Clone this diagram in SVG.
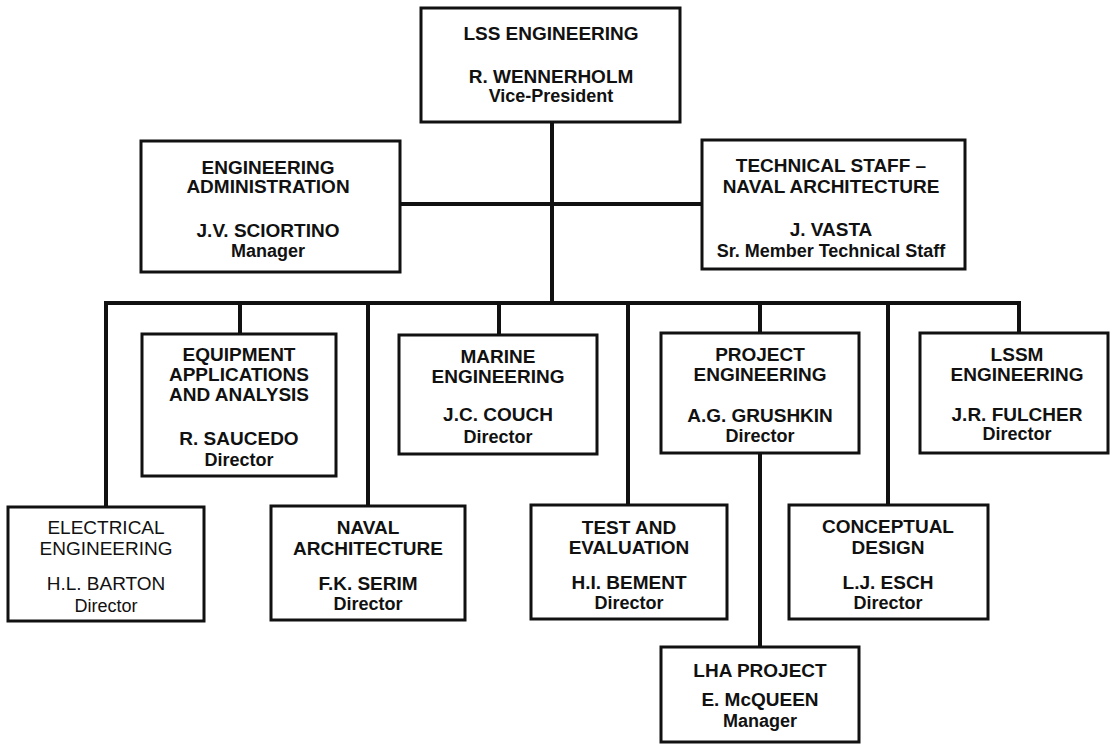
<svg xmlns="http://www.w3.org/2000/svg" width="1110" height="744" viewBox="0 0 1110 744">
<style>
.box{fill:#fff;stroke:#111;stroke-width:3}
.ln{stroke:#111;stroke-width:4;fill:none;stroke-linecap:square}
text{font-family:"Liberation Sans",Arial,sans-serif;font-weight:bold;fill:#111;text-anchor:middle}
.t{font-size:19px}
.s{font-size:18px}
.r{font-weight:normal}
</style>
<rect width="1110" height="744" fill="#fff"/>
<g id="connectors">
<path class="ln" d="M552 122V303M400 204H702M106 303H1019"/>
<path class="ln" d="M106 303V507M240 303V334M368 303V506M499 303V335M628 303V505M760 303V333M888 303V505M1019 303V333M760 453V647"/>
</g>
<g id="lss">
<rect class="box" x="421" y="8" width="259" height="114"/>
<text class="t" x="551" y="40">LSS ENGINEERING</text>
<text class="t" x="551" y="83">R. WENNERHOLM</text>
<text class="s" x="551" y="102">Vice-President</text>
</g>
<g id="admin">
<rect class="box" x="141" y="141" width="259" height="131"/>
<text class="t" x="268" y="174">ENGINEERING</text>
<text class="t" x="268" y="193">ADMINISTRATION</text>
<text class="t" x="268" y="237">J.V. SCIORTINO</text>
<text class="s" x="268" y="257">Manager</text>
</g>
<g id="techstaff">
<rect class="box" x="702" y="140" width="263" height="129"/>
<text class="t" x="831" y="172">TECHNICAL STAFF –</text>
<text class="t" x="831" y="193">NAVAL ARCHITECTURE</text>
<text class="t" x="831" y="236">J. VASTA</text>
<text class="s" x="831" y="257">Sr. Member Technical Staff</text>
</g>
<g id="equipment">
<rect class="box" x="142" y="334" width="194" height="142"/>
<text class="t" x="239" y="361">EQUIPMENT</text>
<text class="t" x="239" y="381">APPLICATIONS</text>
<text class="t" x="239" y="401">AND ANALYSIS</text>
<text class="t" x="239" y="445">R. SAUCEDO</text>
<text class="s" x="239" y="466">Director</text>
</g>
<g id="marine">
<rect class="box" x="399" y="335" width="198" height="119"/>
<text class="t" x="498" y="363">MARINE</text>
<text class="t" x="498" y="383">ENGINEERING</text>
<text class="t" x="498" y="421">J.C. COUCH</text>
<text class="s" x="498" y="443">Director</text>
</g>
<g id="project">
<rect class="box" x="661" y="333" width="198" height="120"/>
<text class="t" x="760" y="361">PROJECT</text>
<text class="t" x="760" y="381">ENGINEERING</text>
<text class="t" x="760" y="422">A.G. GRUSHKIN</text>
<text class="s" x="760" y="442">Director</text>
</g>
<g id="lssm">
<rect class="box" x="920" y="333" width="188" height="120"/>
<text class="t" x="1017" y="361">LSSM</text>
<text class="t" x="1017" y="381">ENGINEERING</text>
<text class="t" x="1017" y="421">J.R. FULCHER</text>
<text class="s" x="1017" y="440">Director</text>
</g>
<g id="electrical">
<rect class="box" x="8" y="507" width="196" height="114"/>
<text class="t r" x="106" y="534">ELECTRICAL</text>
<text class="t r" x="106" y="555">ENGINEERING</text>
<text class="t r" x="106" y="590">H.L. BARTON</text>
<text class="s r" x="106" y="612">Director</text>
</g>
<g id="naval">
<rect class="box" x="271" y="506" width="194" height="114"/>
<text class="t" x="368" y="534">NAVAL</text>
<text class="t" x="368" y="555">ARCHITECTURE</text>
<text class="t" x="368" y="590">F.K. SERIM</text>
<text class="s" x="368" y="610">Director</text>
</g>
<g id="test">
<rect class="box" x="531" y="505" width="196" height="114"/>
<text class="t" x="629" y="534">TEST AND</text>
<text class="t" x="629" y="554">EVALUATION</text>
<text class="t" x="629" y="589">H.I. BEMENT</text>
<text class="s" x="629" y="609">Director</text>
</g>
<g id="conceptual">
<rect class="box" x="789" y="505" width="199" height="114"/>
<text class="t" x="888" y="533">CONCEPTUAL</text>
<text class="t" x="888" y="554">DESIGN</text>
<text class="t" x="888" y="589">L.J. ESCH</text>
<text class="s" x="888" y="609">Director</text>
</g>
<g id="lha">
<rect class="box" x="661" y="647" width="198" height="95"/>
<text class="t" x="760" y="677">LHA PROJECT</text>
<text class="t" x="760" y="706">E. McQUEEN</text>
<text class="s" x="760" y="727">Manager</text>
</g>
</svg>
